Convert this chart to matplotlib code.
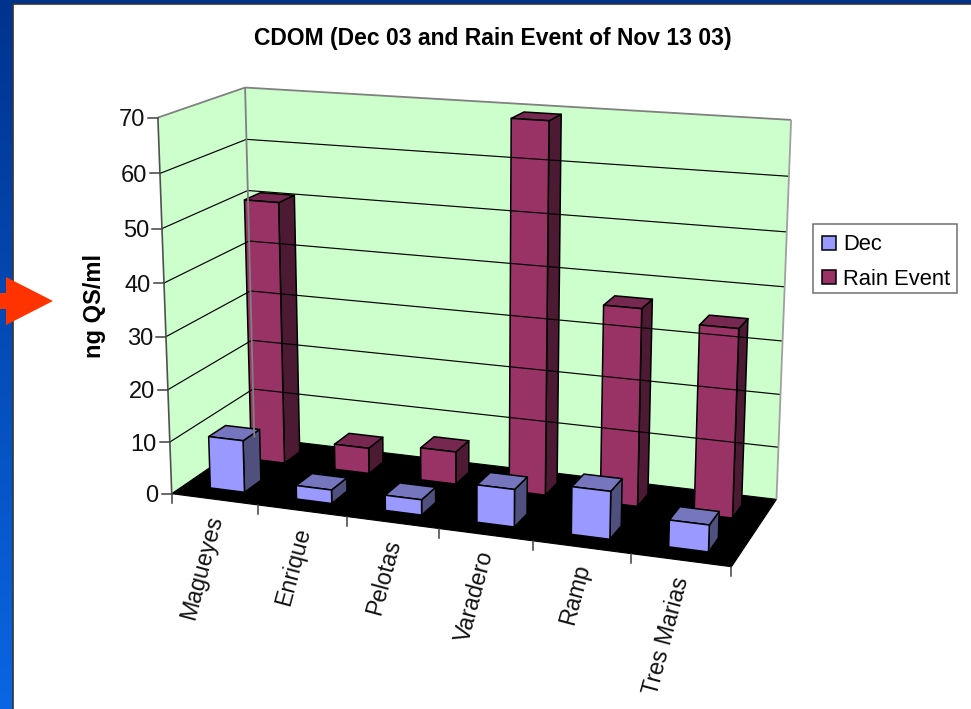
"""CDOM slide chart: 3-D style columns drawn on a plain axes with a small camera model."""
import numpy as np
import matplotlib
matplotlib.use("Agg")
import matplotlib.pyplot as plt
from matplotlib.patches import Polygon, Patch

plt.rcParams["font.family"] = ["Liberation Sans", "DejaVu Sans"]

sites = ["Magueyes", "Enrique", "Pelotas", "Varadero", "Ramp", "Tres Marias"]
dec = [10, 2.6, 2.9, 7, 8.8, 4.9]
rain = [51, 5, 6.3, 69.5, 37, 35]
zticks = [0, 10, 20, 30, 40, 50, 60, 70]

C_WALL = "#CCFFCC"
C_DEC = ("#9999FF", "#7676BF", "#50507F")
C_RAIN = ("#993366", "#772850", "#4D1A33")
ZMAX = 70

# frame corners of the box: (category, depth, value) -> pixel
frame = [
    ((0, 0, 0), (173, 494)),
    ((6, 0, 0), (731, 567)),
    ((0, 1, 0), (253, 437)),
    ((6, 1, 0), (777, 499)),
    ((0, 0, ZMAX), (157, 117)),
    ((0, 1, ZMAX), (246, 88)),
    ((6, 1, ZMAX), (791, 120)),
]


def fit_camera(pairs):
    rows, rhs = [], []
    for (x, y, z), (u, v) in pairs:
        rows.append([x, y, z, 1, 0, 0, 0, 0, -u * x, -u * y, -u * z])
        rhs.append(u)
        rows.append([0, 0, 0, 0, x, y, z, 1, -v * x, -v * y, -v * z])
        rhs.append(v)
    p = np.linalg.lstsq(np.array(rows, float), np.array(rhs, float), rcond=None)[0]
    return np.append(p, 1.0).reshape(3, 4)


CAM = fit_camera(frame)


def proj(x, y, z):
    u, v, w = CAM @ np.array([x, y, z, 1.0])
    return u / w, v / w


def face(ax, pts, color, **kw):
    ax.add_patch(Polygon([proj(*p) for p in pts], closed=True, facecolor=color, **kw))


def column(ax, i, d0, d1, h, colors):
    x0, x1 = i + 0.3, i + 0.7
    kw = dict(edgecolor="black", lw=1.1, joinstyle="round")
    face(ax, [(x1, d0, 0), (x1, d1, 0), (x1, d1, h), (x1, d0, h)], colors[2], **kw)
    face(ax, [(x0, d0, h), (x1, d0, h), (x1, d1, h), (x0, d1, h)], colors[1], **kw)
    face(ax, [(x0, d0, 0), (x1, d0, 0), (x1, d0, h), (x0, d0, h)], colors[0], **kw)


def seg(ax, a, b, **kw):
    pa, pb = proj(*a), proj(*b)
    ax.plot([pa[0], pb[0]], [pa[1], pb[1]], solid_capstyle="butt", **kw)


fig = plt.figure(figsize=(9.71, 7.09), dpi=100)
ax = fig.add_axes([0, 0, 1, 1])
ax.set_xlim(0, 971)
ax.set_ylim(709, 0)
ax.axis("off")

# slide background and the white panel on it
grad = np.linspace(0, 1, 256)[:, None, None] * np.array([0.04, 0.20, 0.33]) + np.array([0.0, 0.20, 0.56])
ax.imshow(grad, extent=(0, 971, 709, 0), aspect="auto", zorder=0)
ax.add_patch(plt.Rectangle((12.5, 4), 960, 710, facecolor="white", edgecolor="#333333", lw=1.2, zorder=0.5))
ax.set_xlim(0, 971)
ax.set_ylim(709, 0)

ax.add_patch(Polygon([(0, 293), (6, 293), (6, 277), (53, 301), (6, 325), (6, 309), (0, 309)],
                     closed=True, facecolor="#FF3300", edgecolor="none", zorder=1))

# walls and floor
face(ax, [(0, 0, 0), (0, 1, 0), (0, 1, ZMAX), (0, 0, ZMAX)], C_WALL, edgecolor="none")
face(ax, [(0, 1, 0), (6, 1, 0), (6, 1, ZMAX), (0, 1, ZMAX)], C_WALL, edgecolor="none")
for z in zticks[1:-1]:
    seg(ax, (0, 0, z), (0, 1, z), color="black", lw=0.85)
    seg(ax, (0, 1, z), (6, 1, z), color="black", lw=0.85)
seg(ax, (0, 0, ZMAX), (0, 1, ZMAX), color="#808080", lw=1.3)
seg(ax, (0, 1, ZMAX), (6, 1, ZMAX), color="#808080", lw=1.3)
seg(ax, (0, 1, 0), (0, 1, ZMAX), color="#808080", lw=1.3)
seg(ax, (6, 1, 0), (6, 1, ZMAX), color="#A0A0A0", lw=1.3)
seg(ax, (0, 0, 0), (0, 0, ZMAX), color="#505050", lw=1.2)
face(ax, [(0, 0, 0), (6, 0, 0), (6, 1, 0), (0, 1, 0)], "black", edgecolor="black", lw=0.8)

# value axis ticks and labels
for z in zticks:
    px, py = proj(0, 0, z)
    ax.plot([px - 10, px], [py, py], color="#404040", lw=1.1)
    ax.text(px - 13, py, str(z), ha="right", va="center_baseline", fontsize=17, color="#111111")

# category ticks and labels
for i in range(len(sites) + 1):
    px, py = proj(i, 0, 0)
    ax.plot([px, px], [py, py + 9], color="#404040", lw=1.1)
for i, name in enumerate(sites):
    px, py = proj(i + 0.5, 0, 0)
    ax.text(px + 1, py + 17, name, rotation=75, rotation_mode="anchor", ha="right", va="center",
            fontsize=16.7, color="#111111")

# back row first so the front row paints over it
for i, h in enumerate(rain):
    column(ax, i, 0.65, 0.85, h, C_RAIN)
for i, h in enumerate(dec):
    column(ax, i, 0.15, 0.35, h, C_DEC)

ax.text(493, 38, "CDOM (Dec 03 and Rain Event of Nov 13 03)", ha="center", va="center",
        fontsize=16.5, fontweight="bold", color="black")
ax.text(94, 306, "ng QS/ml", rotation=90, ha="center", va="center",
        fontsize=17, fontweight="bold", color="black")

# legend box is its own rectangle so the row spacing can be set freely
ax.add_patch(plt.Rectangle((813, 223.5), 144, 69.5, facecolor="white", edgecolor="#707070", lw=1.1))
handles = [Patch(facecolor=C_DEC[0], edgecolor="black", lw=1.1, label="Dec"),
           Patch(facecolor=C_RAIN[0], edgecolor="black", lw=1.1, label="Rain Event")]
ax.legend(handles=handles, loc="upper left", bbox_to_anchor=(814, 226), bbox_transform=ax.transData,
          fontsize=15.8, frameon=False, borderaxespad=0,
          handlelength=0.6, handleheight=0.6, handletextpad=0.35, labelspacing=0.63, borderpad=0.38)

fig.savefig("out.png", dpi=100)
